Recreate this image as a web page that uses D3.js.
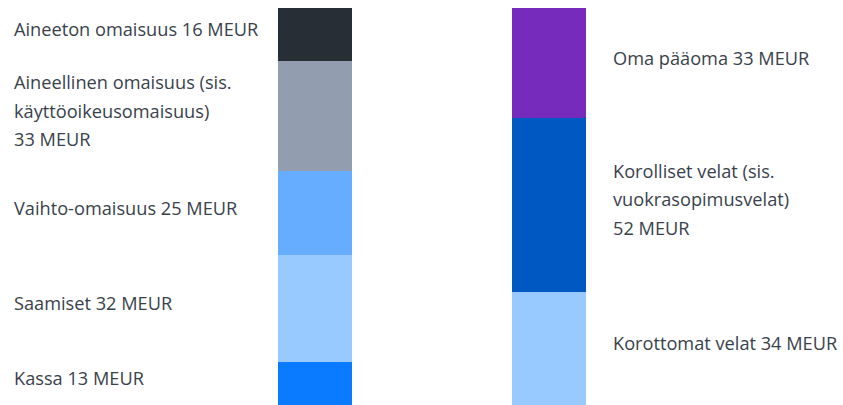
<!DOCTYPE html>
<html><head><meta charset="utf-8">
<script src="https://cdn.jsdelivr.net/npm/d3@7"></script>
<style>
html,body{margin:0;padding:0;background:#fff;}
svg{display:block;}
text{font-family:"Open Sans",sans-serif;font-size:18.2px;fill:#39424c;}
</style></head><body>
<svg id="c" width="843" height="405"></svg>
<script>
// Data
const assetLabels = [["Aineeton omaisuus 16 MEUR"], ["Aineellinen omaisuus (sis.", "käyttöoikeusomaisuus)", "33 MEUR"], ["Vaihto-omaisuus 25 MEUR"], ["Saamiset 32 MEUR"], ["Kassa 13 MEUR"]];
const assetValues = [16, 33, 25, 32, 13];
const assetColors = ["#272e36", "#929eb0", "#66adff", "#99caff", "#0a7aff"];
const liabLabels = [["Oma pääoma 33 MEUR"], ["Korolliset velat (sis.", "vuokrasopimusvelat)", "52 MEUR"], ["Korottomat velat 34 MEUR"]];
const liabValues = [33, 52, 34];
const liabColors = ["#762bbd", "#0058c2", "#99caff"];

const svg = d3.select("#c");
const plotTop = 8, plotBottom = 405;
const total = Math.max(d3.sum(assetValues), d3.sum(liabValues));
const y = d3.scaleLinear().domain([0, total]).range([plotTop, plotBottom]);
const x = d3.scaleBand().domain(["assets", "liab"]).range([278, 586]).paddingInner(0.6838).paddingOuter(0);
const lineH = 28.5;
const capHalf = 6.5;

function drawStack(key, values, colors, labels, labelX) {
  let cum = 0;
  const segs = values.map((v, i) => { const s = {v, i, y0: cum, y1: cum + v}; cum += v; return s; });
  const g = svg.append("g");
  g.selectAll("rect").data(segs).enter().append("rect")
    .attr("x", x(key)).attr("width", x.bandwidth())
    .attr("y", d => y(d.y0)).attr("height", d => y(d.y1) - y(d.y0))
    .attr("fill", d => colors[d.i]).attr("shape-rendering", "crispEdges");
  segs.forEach(d => {
    const lines = labels[d.i];
    const cy = (y(d.y0) + y(d.y1)) / 2 - 5;
    const t = g.append("text").attr("x", labelX);
    lines.forEach((l, j) => {
      t.append("tspan").attr("x", labelX).attr("y", cy + capHalf + (j - (lines.length - 1) / 2) * lineH).text(l);
    });
  });
}
drawStack("assets", assetValues, assetColors, assetLabels, 14);
drawStack("liab", liabValues, liabColors, liabLabels, 613);
</script>
</body></html>
